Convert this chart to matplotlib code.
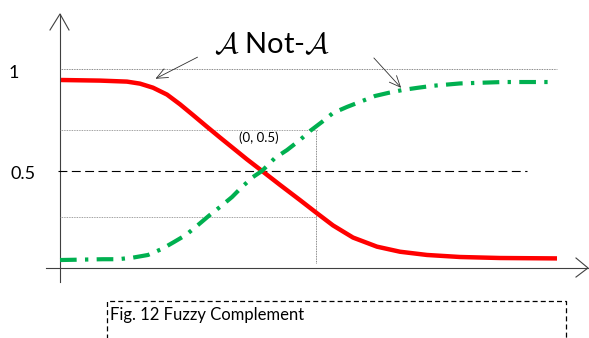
import matplotlib
matplotlib.use("Agg")
import matplotlib.pyplot as plt

plt.rcParams['font.family'] = ['Lato', 'DejaVu Sans']
plt.rcParams['mathtext.fontset'] = 'cm'

# membership curves (x centred on the crossing point, y = membership degree)
x_a = [-4.02, -3.24, -2.70, -2.44, -2.18, -1.90, -1.64, -1.38, -1.10, -0.84,
       -0.58, -0.30, 0.0, 0.36, 0.76, 1.10, 1.42, 1.82, 2.30, 2.76, 3.30,
       3.96, 4.76, 5.90]
mu_a = [0.948, 0.945, 0.940, 0.930, 0.910, 0.876, 0.828, 0.775, 0.717, 0.664,
        0.612, 0.556, 0.499, 0.430, 0.355, 0.290, 0.230, 0.170, 0.125, 0.100,
        0.084, 0.074, 0.069, 0.067]

x_not = [-4.04, -3.18, -2.88, -2.58, -2.28, -2.00, -1.76, -1.52, -1.28, -1.06,
         -0.84, -0.60, -0.40, -0.18, 0.0, 0.26, 0.50, 0.76, 0.96, 1.20, 1.42,
         1.70, 1.96, 2.26, 2.52, 2.82, 3.10, 3.40, 3.96, 4.82, 5.86]
mu_not = [0.059, 0.063, 0.063, 0.071, 0.084, 0.114, 0.148, 0.183, 0.232, 0.278,
          0.321, 0.370, 0.420, 0.469, 0.499, 0.563, 0.602, 0.652, 0.696, 0.741,
          0.785, 0.815, 0.840, 0.869, 0.884, 0.899, 0.909, 0.919, 0.931, 0.938,
          0.938]

y_ticks = [1.0, 0.5]
y_labels = ['1', '0.5']
guide_hi = 0.701
guide_lo = 0.272
guide_x = 1.08

fig = plt.figure(figsize=(5.89, 3.38), dpi=100)
ax = fig.add_axes([0, 0, 1, 1])
ax.set_xlim(-5.24, 6.54)
ax.set_ylim(-0.326, 1.343)
ax.set_axis_off()

x0 = -4.04
axis_col = '#404040'
# axes with open arrow heads
ax.plot([x0, x0], [-0.049, 1.274], color=axis_col, lw=0.8)
ax.plot([-4.24, x0, -3.86], [1.195, 1.274, 1.195], color=axis_col, lw=0.8)
ax.plot([-4.32, 6.52], [0.0198, 0.0198], color=axis_col, lw=0.8)
ax.plot([6.28, 6.52, 6.28], [0.069, 0.0198, -0.025], color=axis_col, lw=0.8)

# guide lines
ax.plot([x0, 5.9], [1.0, 1.0], color='#606060', lw=0.6, ls=(0, (1, 1)))
ax.plot([x0, 1.12], [guide_hi, guide_hi], color='#808080', lw=0.6, ls=(0, (1, 1)))
ax.plot([x0, guide_x], [guide_lo, guide_lo], color='#808080', lw=0.6, ls=(0, (1, 1)))
ax.plot([guide_x, guide_x], [0.044, guide_hi], color='#606060', lw=0.6, ls=(0, (1, 1)))
ax.plot([-4.08, 5.3], [0.5, 0.5], color='black', lw=0.8, ls=(0, (8, 4)))

# curves
ax.plot(x_a, mu_a, color='#FF0000', lw=3.2, solid_capstyle='butt',
        solid_joinstyle='round')
ax.plot(x_not, mu_not, color='#00B050', lw=3, ls=(0, (4, 2, 0.8, 2)))

# tick labels
for v, s in zip(y_ticks, y_labels):
    xpos = -4.96 if s == '1' else -4.78
    ax.text(xpos, v - 0.015, s, fontsize=13, ha='center', va='center')

ax.text(0.2, 1.121, r'$\mathcal{A}$ Not-$\mathcal{A}$', fontsize=21,
        ha='center', va='center')
ax.annotate('', xy=(-2.18, 0.948), xytext=(-1.24, 1.067),
            arrowprops=dict(arrowstyle='->,head_length=0.8,head_width=0.35',
                            color='#303030', lw=0.6))
ax.annotate('', xy=(2.82, 0.899), xytext=(2.2, 1.067),
            arrowprops=dict(arrowstyle='->,head_length=0.8,head_width=0.35',
                            color='#303030', lw=0.6))
ax.text(-0.06, 0.662, '(0, 0.5)', fontsize=9.5, ha='center', va='center')

# caption box
ax.plot([-3.1, -3.1, 6.08, 6.08], [-0.4, -0.143, -0.143, -0.4],
        color='black', lw=0.9, ls=(0, (4, 2.5)))
ax.text(-3.04, -0.212, 'Fig. 12 Fuzzy Complement', fontsize=12,
        ha='left', va='center')

fig.savefig('out.png', dpi=100)
